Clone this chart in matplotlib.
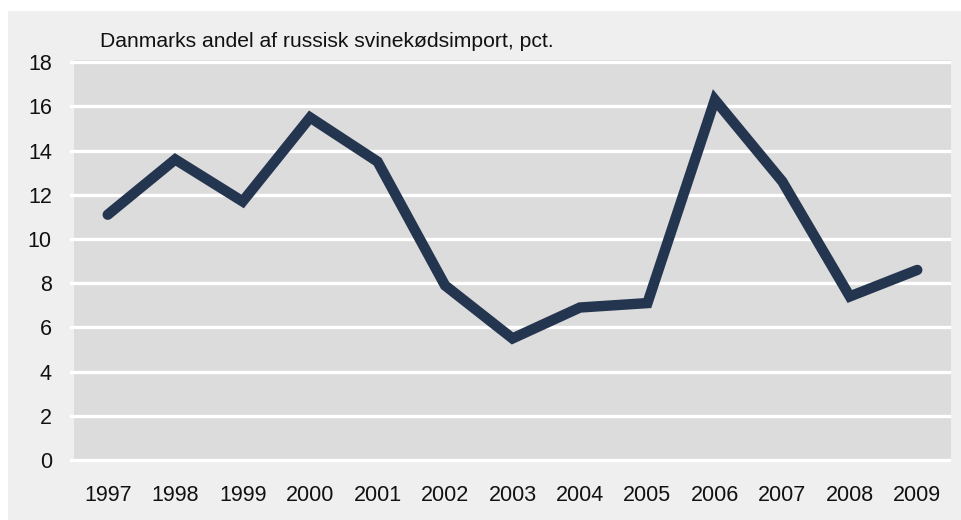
import matplotlib
matplotlib.use("Agg")
from matplotlib import pyplot as plt
from matplotlib.patches import Rectangle

# Data
years = ['1997', '1998', '1999', '2000', '2001', '2002', '2003',
         '2004', '2005', '2006', '2007', '2008', '2009']
share = [11.1, 13.6, 11.7, 15.5, 13.5, 7.9, 5.5, 6.9, 7.1, 16.3, 12.6, 7.4, 8.6]
yticks = [0, 2, 4, 6, 8, 10, 12, 14, 16, 18]
title = 'Danmarks andel af russisk svinekødsimport, pct.'

plt.rcParams['font.family'] = ['Liberation Sans', 'DejaVu Sans']

W, H = 961, 520
fig = plt.figure(figsize=(W / 100, H / 100), dpi=100)
fig.patch.set_facecolor('white')
# light grey panel behind everything (white margin top/left)
fig.patches.append(Rectangle((8 / W, 0), 1 - 8 / W, 1 - 11 / H,
                             transform=fig.transFigure, facecolor='#efefef',
                             edgecolor='none', zorder=-5))

ax = fig.add_axes([74 / W, 1 - 460 / H, (951 - 74) / W, (460 - 60) / H])
ax.set_zorder(2)
ax.set_facecolor('#dcdcdc')

x = range(len(years))
ax.plot(x, share, color='#243550', lw=7.5, solid_joinstyle='miter',
        solid_capstyle='round', zorder=3)

ax.set_xlim(-0.5, len(years) - 0.5)
ax.set_ylim(0, 18.1)
ax.set_yticks(yticks)
ax.set_yticklabels([str(v) for v in yticks], fontsize=15.5, color='#111111')
ax.set_xticks(list(x))
ax.set_xticklabels(years, fontsize=15.5, color='#111111')

for v in yticks:
    ax.axhline(v, color='white', lw=2.4, zorder=2, clip_on=False,
               xmin=-3 / 877, xmax=1 - 2 / 877)

for s in ax.spines.values():
    s.set_visible(False)
ax.tick_params(axis='y', length=0, pad=16)
ax.tick_params(axis='x', length=0, pad=18)

fig.text(100 / W, 1 - 47 / H, title, fontsize=15.2, color='#111111',
         ha='left', va='baseline', zorder=3)

fig.savefig('out.png', dpi=100, facecolor=fig.get_facecolor())
